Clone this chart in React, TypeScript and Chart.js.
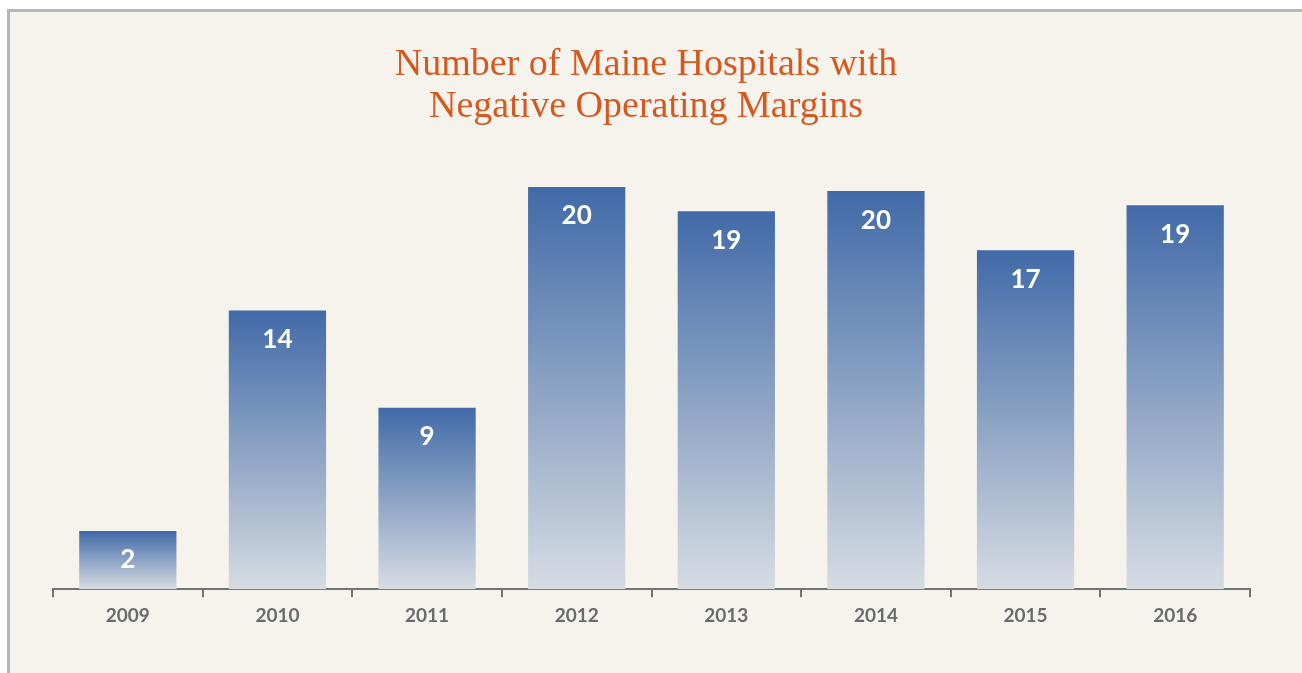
import React, { useEffect, useRef } from "react";
import { Chart, registerables } from "chart.js";

Chart.register(...registerables);

const categories = ["2009", "2010", "2011", "2012", "2013", "2014", "2015", "2016"];
// bar heights
const barValues = [2.9, 13.9, 9.05, 20.05, 18.85, 19.85, 16.9, 19.15];
// printed value labels
const valueLabels = ["2", "14", "9", "20", "19", "20", "17", "19"];
const titleLines = ["Number of Maine Hospitals with", "Negative Operating Margins"];

const BG = "#f6f3ed";
const AXIS = "#6f7478";

export default function App() {
  const ref = useRef<HTMLCanvasElement | null>(null);

  useEffect(() => {
    if (!ref.current) return;
    const titlePlugin = {
      id: "centerTitle",
      afterDraw(chart: any) {
        const c = chart.ctx;
        c.save();
        c.fillStyle = "#d4581f";
        c.font = "38px 'Liberation Serif', 'DejaVu Serif', serif";
        c.textAlign = "center";
        c.textBaseline = "alphabetic";
        titleLines.forEach((line, i) => {
          c.fillText(line, 636, 63 + i * 42);
        });
        c.restore();
      },
    };
    const labelPlugin = {
      id: "valueLabels",
      afterDatasetsDraw(chart: any) {
        const c = chart.ctx;
        const meta = chart.getDatasetMeta(0);
        c.save();
        c.fillStyle = "#ffffff";
        c.font = "bold 26px Lato";
        c.textAlign = "center";
        c.textBaseline = "middle";
        meta.data.forEach((el: any, i: number) => {
          c.fillText(valueLabels[i], el.x, el.y + 29);
        });
        c.restore();
      },
    };
    const chart = new Chart(ref.current, {
      type: "bar",
      data: {
        labels: categories,
        datasets: [
          {
            data: barValues,
            categoryPercentage: 1,
            barPercentage: 0.65,
            borderWidth: 0,
            backgroundColor: (ctx: any) => {
              const chart = ctx.chart;
              const ys = chart.scales?.y;
              if (!ys || ctx.raw == null) return "#4a6fa8";
              const top = ys.getPixelForValue(ctx.raw);
              const bottom = ys.getPixelForValue(0);
              if (!isFinite(top) || !isFinite(bottom) || top === bottom) return "#4a6fa8";
              const g = chart.ctx.createLinearGradient(0, top, 0, bottom);
              g.addColorStop(0, "#416aa8");
              g.addColorStop(0.5, "#8ca3c4");
              g.addColorStop(1, "#d6dce3");
              return g;
            },
          },
        ],
      },
      options: {
        animation: false,
        responsive: false,
        maintainAspectRatio: false,
        layout: { padding: { left: 43, right: 52, top: 136, bottom: 39 } },
        plugins: {
          legend: { display: false },
          tooltip: { enabled: false },
          title: { display: false },
        },
        scales: {
          x: {
            grid: {
              display: true,
              drawOnChartArea: false,
              drawTicks: true,
              tickLength: 8,
              color: AXIS,
              lineWidth: 2,
              offset: true,
            },
            border: { display: true, color: AXIS, width: 2 },
            ticks: {
              color: "#666b6f",
              font: { family: "Lato", size: 19, weight: "bold" },
              padding: 7,
            },
          },
          y: {
            display: false,
            min: 0,
            max: 22,
          },
        },
      },
      plugins: [labelPlugin, titlePlugin],
    });
    return () => chart.destroy();
  }, []);

  return (
    <div
      style={{
        position: "fixed",
        left: 7,
        top: 9,
        right: 0,
        bottom: 0,
        boxSizing: "border-box",
        borderLeft: "3px solid #b3b7b9",
        borderTop: "3px solid #b3b7b9",
        background: BG,
        overflow: "hidden",
      }}
    >
      <canvas
        ref={ref}
        width={1292}
        height={661}
        style={{ position: "absolute", left: 0, top: 0, width: 1292, height: 661 }}
      />
    </div>
  );
}
